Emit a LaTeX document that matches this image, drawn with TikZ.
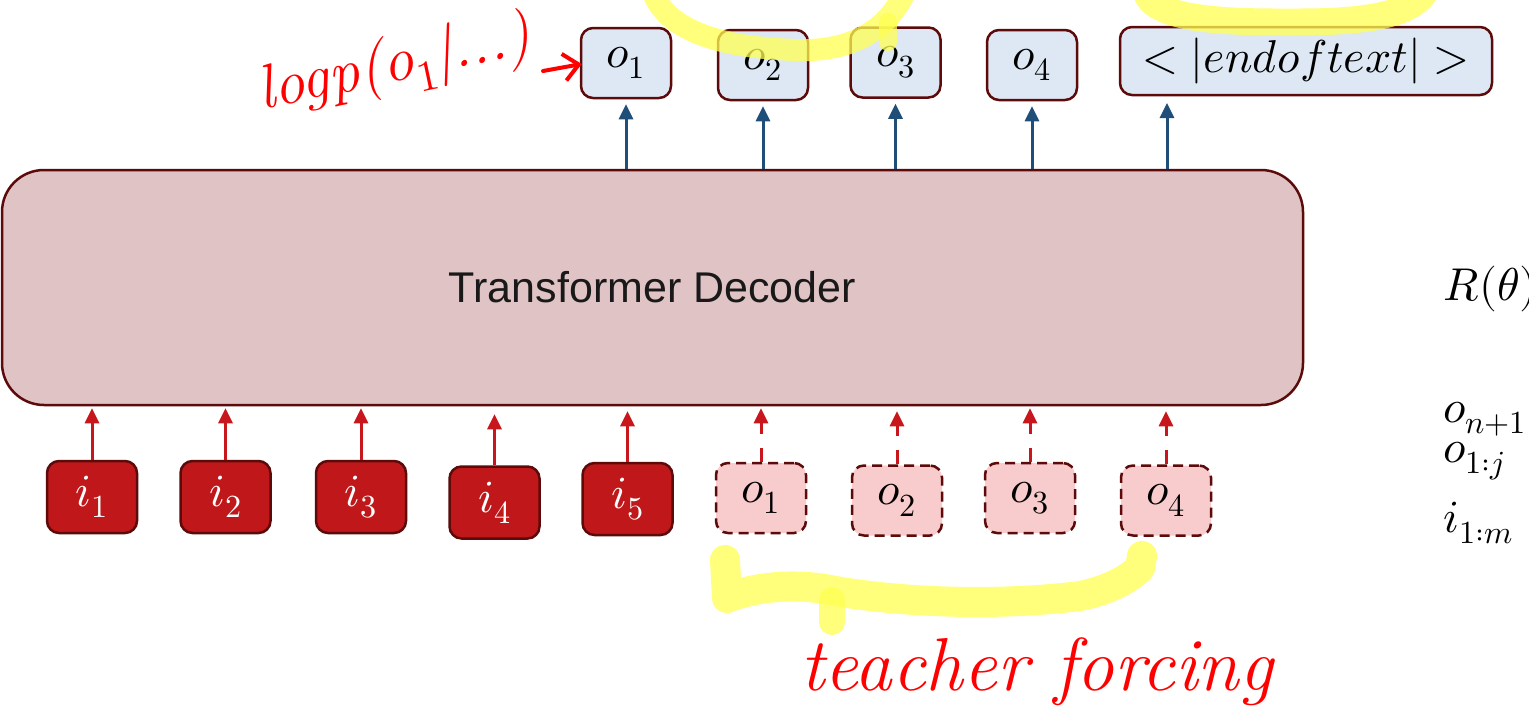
\documentclass[tikz,border=0pt]{standalone}
\usepackage{fontspec}
\usepackage{unicode-math}
\setmathfont{Latin Modern Math}
\newfontfamily\labelfont{Liberation Sans}
\usetikzlibrary{arrows.meta,calc}

\definecolor{edge}{RGB}{92,10,10}
\definecolor{decfill}{RGB}{224,195,196}
\definecolor{outfill}{RGB}{221,232,244}
\definecolor{arrowblue}{RGB}{31,78,121}
\definecolor{infill}{RGB}{192,24,26}
\definecolor{arrowred}{RGB}{200,22,29}
\definecolor{tffill}{RGB}{248,203,204}
\definecolor{ink}{RGB}{255,0,0}
\definecolor{marker}{RGB}{255,255,80}

\begin{document}
\begin{tikzpicture}[x=1pt,y=-1pt,
  tok/.style={rounded corners=12pt, minimum width=90pt, minimum height=70pt,
    inner sep=0pt, line width=2.5pt, draw=edge, font=\fontsize{46}{50}\selectfont},
  outtok/.style={tok, fill=outfill},
  intok/.style={tok, fill=infill, text=white},
  tftok/.style={tok, fill=tffill, dash pattern=on 10pt off 6pt},
  blueup/.style={draw=arrowblue, line width=3pt, -{Triangle[length=15pt,width=14pt]}},
  redup/.style={draw=arrowred, line width=3pt, -{Triangle[length=15pt,width=14pt]}},
  dashup/.style={redup, dash pattern=on 14pt off 14pt},
  sidemath/.style={anchor=base west, inner sep=0pt, font=\fontsize{46}{50}\selectfont},
  inktext/.style={text=ink, inner sep=0pt, font=\itshape},
  inkarrow/.style={draw=ink, line width=4pt, line cap=round,
    -{Straight Barb[length=15pt,width=27pt,line width=4pt]}},
  hl/.style={draw=marker, draw opacity=0.75, line cap=round, line join=round, line width=24pt}
]
\useasboundingbox (0,0) rectangle (1529,721);
\clip (0,0) rectangle (1529,721);

% decoder block
\node[draw=edge, fill=decfill, line width=2.5pt, rounded corners=42pt,
      minimum width=1301pt, minimum height=235pt, inner sep=0pt,
      font=\labelfont\fontsize{43}{50}\selectfont, text={rgb,255:red,25;green,25;blue,25}]
      (dec) at (652.5,287.5) {Transformer Decoder};

% predicted tokens
\node[outtok] (oo1) at (626,63) {$o_1$};
\node[outtok] (oo2) at (763,65) {$o_2$};
\node[outtok] (oo3) at (895.5,62.5) {$o_3$};
\node[outtok] (oo4) at (1032,65) {$o_4$};
\node[outtok, minimum width=372pt, minimum height=68pt] (eot) at (1306,61) {$<|endoftext|>$};

% prompt tokens
\node[intok, minimum height=72pt] (i1) at (92,497) {$i_1$};
\node[intok, minimum height=72pt] (i2) at (225.5,497) {$i_2$};
\node[intok, minimum height=72pt] (i3) at (361,497) {$i_3$};
\node[intok, minimum height=72pt] (i4) at (494.5,502.5) {$i_4$};
\node[intok, minimum height=72pt] (i5) at (627.5,499) {$i_5$};

% ground-truth tokens fed back in
\node[tftok] (t1) at (761,498) {$o_1$};
\node[tftok] (t2) at (897,500.5) {$o_2$};
\node[tftok] (t3) at (1030,498) {$o_3$};
\node[tftok] (t4) at (1166,500.5) {$o_4$};

% outputs
\draw[blueup] (dec.north -| oo1) -- ($(oo1.south)+(0,5)$);
\draw[blueup] (dec.north -| oo2) -- ($(oo2.south)+(0,5)$);
\draw[blueup] (dec.north -| oo3) -- ($(oo3.south)+(0,5)$);
\draw[blueup] (dec.north -| oo4) -- ($(oo4.south)+(0,5)$);
\coordinate (eotfeed) at (1167,103);
\draw[blueup] (dec.north -| eotfeed) -- (eotfeed);

% inputs
\draw[redup] (i1.north) -- ($(i1.north |- dec.south)+(0,2)$);
\draw[redup] (i2.north) -- ($(i2.north |- dec.south)+(0,2)$);
\draw[redup] (i3.north) -- ($(i3.north |- dec.south)+(0,2)$);
\draw[redup] (i4.north) -- ($(i4.north |- dec.south)+(0,8)$);
\draw[redup] (i5.north) -- ($(i5.north |- dec.south)+(0,5)$);
\draw[dashup] (t1.north) -- ($(t1.north |- dec.south)+(0,2)$);
\draw[dashup] (t2.north) -- ($(t2.north |- dec.south)+(0,5)$);
\draw[dashup] (t3.north) -- ($(t3.north |- dec.south)+(0,2)$);
\draw[dashup] (t4.north) -- ($(t4.north |- dec.south)+(0,5)$);

% notation on the right
\node[sidemath] (rtheta) at (1443,300) {$R(\theta)$};
\node[sidemath] (onext) at (1443,422) {$o_{n+1}$};
\node[sidemath] (oprefix) at (1443,462) {$o_{1:j}$};
\node[sidemath] (iprompt) at (1443,532) {$i_{1:m}$};

% marker strokes
\draw[hl, line width=22pt] (652,-10) .. controls (668,38) and (740,48) .. (795,50)
      .. controls (845,52) and (885,35) .. (905,-8);
\draw[hl, line width=18pt] (888,22) -- (888,42);
\draw[hl, line width=27pt] (1146,-10) .. controls (1150,24) and (1250,22) .. (1300,22)
      .. controls (1360,22) and (1410,16) .. (1425,-8);
\draw[hl, line width=30pt] (725,560) -- (727,598) .. controls (760,585) and (800,584) .. (830,590)
      .. controls (900,603) and (1000,606) .. (1080,596)
      .. controls (1110,590) and (1130,578) .. (1140,568) -- (1142,556);
\draw[hl, line width=26pt] (832,600) -- (832,622);

% handwritten notes
\node[inktext, anchor=base west, rotate=12, font=\itshape\fontsize{62}{70}\selectfont]
      (logp) at (262,110) {logp(o$_1$|...)};
\coordinate (logpend) at (543,71);
\draw[inkarrow] (logpend) -- ($(oo1.west)+(2,1)$);
\node[inktext, anchor=base west, font=\itshape\fontsize{75}{80}\selectfont]
      (tf) at (800,690) {teacher forcing};
\end{tikzpicture}
\end{document}
